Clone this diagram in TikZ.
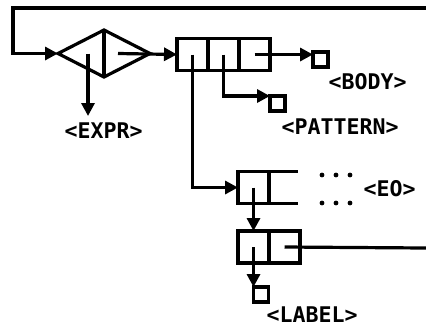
\documentclass[tikz,border=0pt]{standalone}
\usepackage{fontspec}
\usepackage{tikz}
\usetikzlibrary{shapes.geometric,arrows.meta,positioning}
\newfontfamily\monofnt{DejaVu Sans Mono}

\begin{document}
\begin{tikzpicture}[x=0.5pt,y=-0.5pt,line width=1.6pt,
ptr/.style={-{Triangle[length=6.5pt,width=6.5pt]}},
cell/.style={rectangle,draw,minimum width=15.5pt,minimum height=16pt,inner sep=0pt,outer sep=0pt},
endbox/.style={rectangle,draw,minimum width=7.5pt,minimum height=7.5pt,inner sep=0pt,outer sep=0pt,anchor=north west},
lbl/.style={font=\monofnt\bfseries\fontsize{10.8pt}{12pt}\selectfont,inner sep=0pt,anchor=north west}]
\useasboundingbox (0,0) rectangle (426,327);
\node[diamond,draw,minimum width=46pt,minimum height=23.5pt,inner sep=0pt,outer sep=0pt] (sel) at (104,53.5) {};
\draw (sel.north) -- (sel.south);
\coordinate (selL) at (88,53.5);
\coordinate (selR) at (118,53.5);
\coordinate (loopin) at (426,8);
\coordinate (loopcorner) at (13,8);
\coordinate (loopout) at (426,248);
\node[cell] (c11) at (192.5,54.5) {};
\node[cell,right=0pt of c11] (c12) {};
\node[cell,right=0pt of c12] (c13) {};
\node[cell] (c21) at (253.5,187.5) {};
\node[cell] (c31) at (253.5,247) {};
\node[cell,right=0pt of c31] (c32) {};
\node[endbox] (bodybox) at (313,52) {};
\node[endbox] (patbox) at (270,96) {};
\node[endbox] (labbox) at (253.5,287) {};
\node[lbl] (expr) at (63,121) {<EXPR>};
\node[lbl] (body) at ([xshift=-0.5pt,yshift=-2.5pt]bodybox.south east) {<BODY>};
\node[lbl] (pattern) at ([xshift=-2.5pt,yshift=-3pt]patbox.south east) {<PATTERN>};
\node[lbl] (label) at ([xshift=-1.75pt,yshift=-1.5pt]labbox.south east) {<LABEL>};
\node[lbl,anchor=west] (eo) at (362,188.5) {<EO>};
\draw[ptr] (loopin) -- (loopcorner) |- (sel.west);
\draw[ptr,shorten >=2.5pt] (selL) -- (selL |- expr.north);
\draw[ptr] (selR) -- (c11.west);
\draw[ptr] (c13.center) -- (c13.center -| bodybox.west);
\draw[ptr] (c12.center) |- (patbox.north west);
\draw[ptr] (c11.center) |- (c21.west);
\draw (c21.north east) -- ++(29,0);
\draw (c21.south east) -- ++(29,0);
\foreach \x in {322,336,350} {
   \foreach \y in {175,203} {
      \fill (\x,\y) circle (1.2pt);
   }
}
\draw[ptr] (c21.center) -- (c31.north);
\draw[ptr] (c31.center) -- (labbox.north west);
\draw (c32.center) -- (loopout);
\end{tikzpicture}
\end{document}
